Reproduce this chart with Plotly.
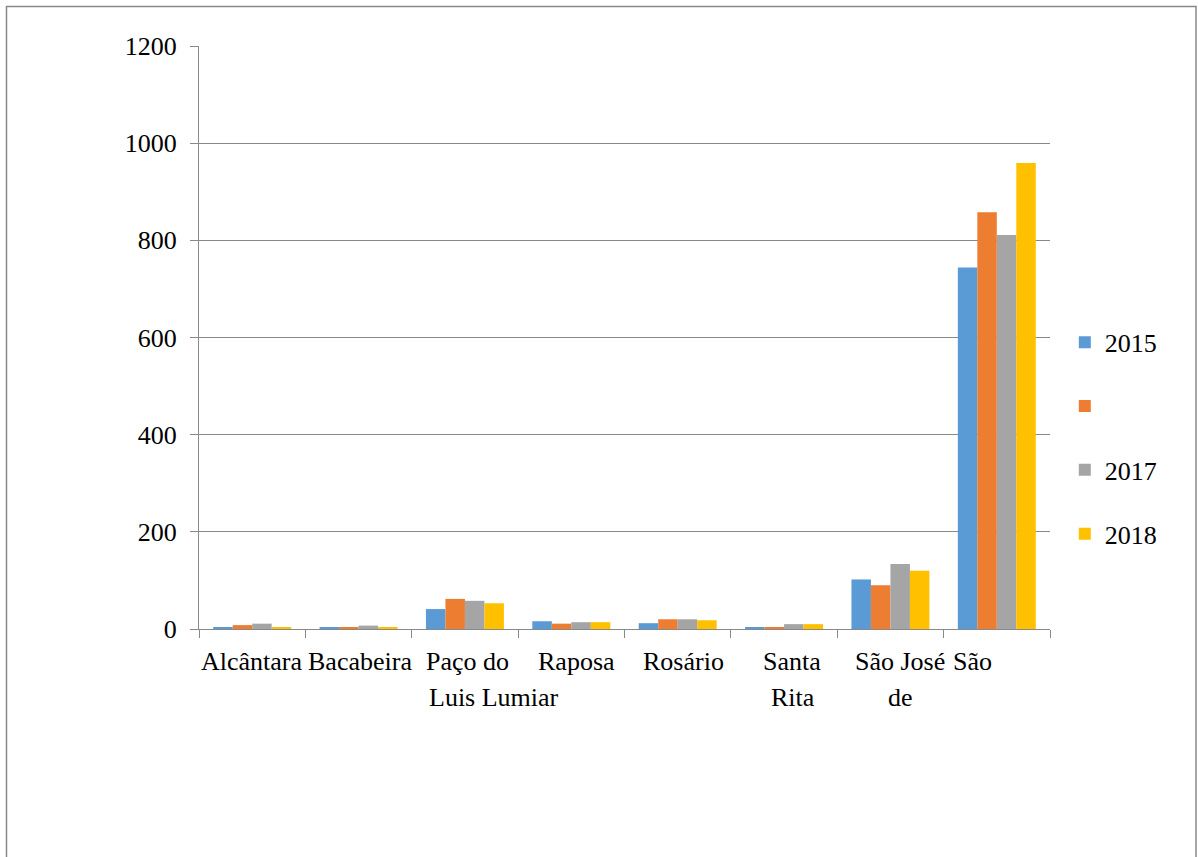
import plotly.graph_objects as go

# Municípios e valores anuais
municipios = ["Alcântara", "Bacabeira", "Paço do Lumiar", "Raposa",
              "Rosário", "Santa Rita", "São José de Ribamar", "São Luís"]
valores_2015 = [4, 4, 41, 16, 12, 3, 102, 744]
valores_2016 = [8, 3, 62, 11, 20, 3, 90, 858]
valores_2017 = [11, 7, 58, 14, 20, 10, 134, 811]
valores_2018 = [4, 3, 53, 14, 18, 10, 120, 959]

# Rótulos do eixo x, linha a linha, como aparecem sob cada categoria
rotulos_linha1 = ["Alcântara", "Bacabeira", "Paço do", "Raposa",
                  "Rosário", "Santa", "São José", "São"]
rotulos_linha2 = ["", "", "Luis Lumiar", "", "", "Rita", "de", ""]

nomes_legenda = ["2015", " ", "2017", "2018"]
cores = ["#5B9BD5", "#ED7D31", "#A5A5A5", "#FFC000"]

serif = "Times New Roman"
cinza = "#898989"
fonte = dict(family=serif, size=26, color="black")

fig = go.Figure()
for i, (nome, vals, cor) in enumerate(zip(nomes_legenda,
                                          [valores_2015, valores_2016, valores_2017, valores_2018],
                                          cores)):
    fig.add_trace(go.Bar(
        x=municipios, y=vals, name=nome, legendgroup=f"g{i}",
        marker=dict(color=cor, line=dict(width=0)),
    ))

# deslocamentos horizontais (px) dos rótulos em relação ao centro da categoria
desloc1 = [0, 1, 3, 5, 6, 8, 10, -24]
desloc2 = [0, 0, 29, 0, 0, 9, 10, 0]
annotations = []
for m, t1, t2, d1, d2 in zip(municipios, rotulos_linha1, rotulos_linha2, desloc1, desloc2):
    annotations.append(dict(x=m, xref="x", y=0, yref="y", text=t1, showarrow=False,
                            yanchor="top", xanchor="center", xshift=d1, yshift=-16,
                            font=fonte))
    if t2:
        annotations.append(dict(x=m, xref="x", y=0, yref="y", text=t2, showarrow=False,
                                yanchor="top", xanchor="center", xshift=d2, yshift=-52,
                                font=fonte))

fig.update_layout(
    width=1198, height=857,
    margin=dict(l=199, r=148, t=46, b=228),
    paper_bgcolor="white", plot_bgcolor="white",
    font=fonte,
    barmode="group", bargap=0.267, bargroupgap=0,
    showlegend=True,
    legend=dict(x=1.0174, y=0.327, xanchor="left", yanchor="middle",
                font=fonte, tracegroupgap=27, itemwidth=30, bgcolor="rgba(0,0,0,0)"),
    xaxis=dict(type="category", showticklabels=False, showgrid=False,
               showline=True, linecolor=cinza, linewidth=1,
               ticks="outside", ticklen=8, tickcolor=cinza, tickson="boundaries",
               range=[-0.5, 7.5]),
    yaxis=dict(range=[0, 1200], tickvals=[0, 200, 400, 600, 800, 1000, 1200],
               showgrid=True, gridcolor=cinza, gridwidth=1,
               showline=True, linecolor=cinza, linewidth=1,
               ticks="outside", ticklen=8, tickcolor=cinza, ticklabelstandoff=8,
               tickfont=fonte, zeroline=False),
    annotations=annotations,
    shapes=[dict(type="rect", xref="paper", yref="paper",
                 x0=(6.5 - 199) / 851, x1=(1196 - 199) / 851,
                 y0=-0.6, y1=(629 - 6.5) / 583,
                 line=dict(color=cinza, width=1.5), fillcolor="rgba(0,0,0,0)", layer="below")],
)

fig.write_html("out.html")
